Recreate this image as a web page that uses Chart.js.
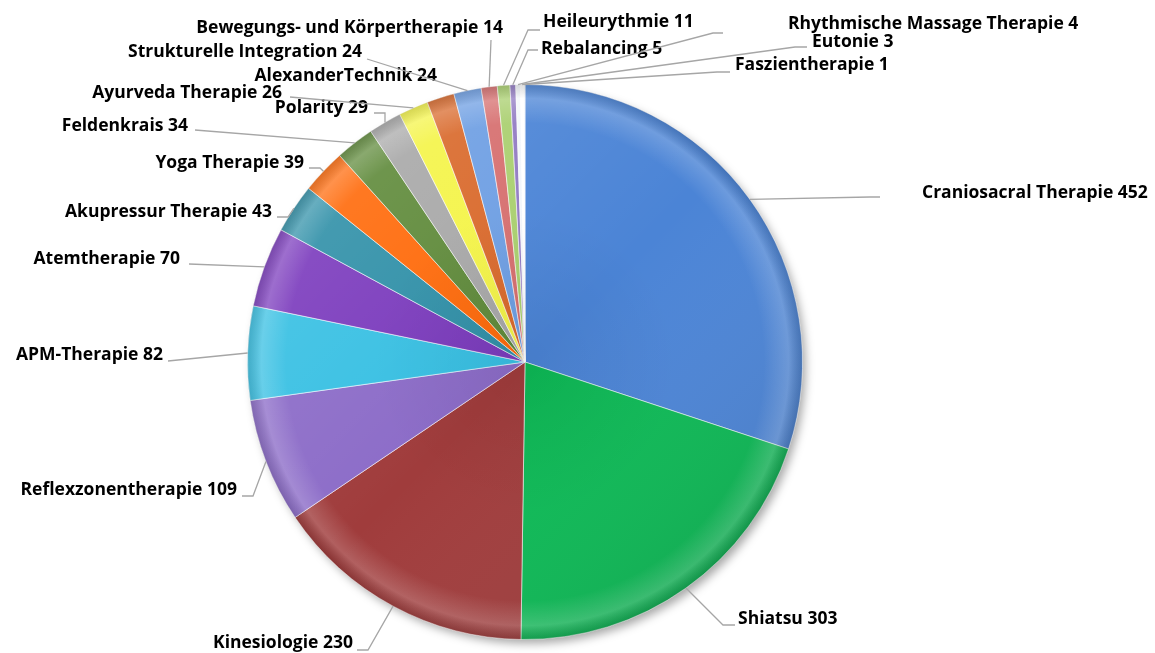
<!DOCTYPE html>
<html>
<head>
<meta charset="utf-8">
<script src="https://cdn.jsdelivr.net/npm/chart.js@4.4.1/dist/chart.umd.min.js"></script>
<style>
  html, body { margin: 0; padding: 0; background: #fff; }
  #wrap { width: 1155px; height: 653px; }
</style>
</head>
<body>
<div id="wrap"><canvas id="therapy_chart" width="1155" height="653"></canvas></div>
<script>
const categories = [
  'Craniosacral Therapie', 'Shiatsu', 'Kinesiologie', 'Reflexzonentherapie',
  'APM-Therapie', 'Atemtherapie', 'Akupressur Therapie', 'Yoga Therapie',
  'Feldenkrais', 'Polarity', 'Ayurveda Therapie', 'AlexanderTechnik',
  'Strukturelle Integration', 'Bewegungs- und Körpertherapie', 'Heileurythmie',
  'Rebalancing', 'Rhythmische Massage Therapie', 'Eutonie', 'Faszientherapie',
]
const counts = [452, 303, 230, 109, 82, 70, 43, 39, 34, 29, 26, 24, 24, 14, 11, 5, 4, 3, 1]

const sliceColors = [
  '#4b84d6', '#0cb955', '#a03c3c', '#8c6cc8', '#38c0e3', '#7b3bbd', '#3090a8',
  '#ff6a0a', '#5f8a3a', '#a8a8a8', '#f4f448', '#d9692b', '#6d9ee3', '#d66e6e',
  '#a9cf6e', '#9079c2', '#f2f6fb', '#ffffff', '#eef3f8',
]

// label placement: text anchor, alignment, leader line points after the pie edge
const labelLayout = [
  { x: 922, y: 193, align: 'left', line: [[870, 197], [880, 197]] },
  { x: 738, y: 619, align: 'left', line: [[723, 625], [735, 625]] },
  { x: 353, y: 643, align: 'right', line: [[368, 650], [357, 650]] },
  { x: 237, y: 490, align: 'right', line: [[253, 496], [242, 496]] },
  { x: 163, y: 355, align: 'right', line: [[168, 361]] },
  { x: 180, y: 259, align: 'right', line: [[189, 264]] },
  { x: 272, y: 212, align: 'right', line: [[288, 217], [277, 217]] },
  { x: 304, y: 163, align: 'right', line: [[320, 168], [309, 168]] },
  { x: 188, y: 126, align: 'right', line: [[195, 130]] },
  { x: 368, y: 108, align: 'right', line: [[385, 113], [374, 113]] },
  { x: 282, y: 93, align: 'right', line: [[290, 97]] },
  { x: 437, y: 76, align: 'right', line: [] },
  { x: 362, y: 52, align: 'right', line: [[367, 59]] },
  { x: 503, y: 28, align: 'right', line: [[491, 40]] },
  { x: 543, y: 22, align: 'left', line: [[528, 30], [540, 30]] },
  { x: 541, y: 49, align: 'left', line: [[528, 50], [538, 50]] },
  { x: 788, y: 24, align: 'left', line: [[713, 33], [723, 33]] },
  { x: 812, y: 42, align: 'left', line: [[795, 47], [807, 47]] },
  { x: 735, y: 65, align: 'left', line: [[717, 72], [730, 72]] },
]

const pieShadow = {
  id: 'pieShadow',
  beforeDatasetsDraw(chart) {
    const arc = chart.getDatasetMeta(0).data[0]
    if (!arc) return
    const ctx = chart.ctx
    ctx.save()
    ctx.shadowColor = 'rgba(0,0,0,0.35)'
    ctx.shadowBlur = 10
    ctx.shadowOffsetX = 4
    ctx.shadowOffsetY = 5
    ctx.fillStyle = '#fff'
    ctx.beginPath()
    ctx.arc(arc.x, arc.y, arc.outerRadius - 1, 0, Math.PI * 2)
    ctx.fill()
    ctx.restore()
  },
  afterDatasetsDraw(chart) {
    const ctx = chart.ctx
    const arcs = chart.getDatasetMeta(0).data
    if (!arcs.length) return
    const cx = arcs[0].x
    const cy = arcs[0].y
    const r = arcs[0].outerRadius
    arcs.forEach((a) => {
      ctx.save()
      ctx.beginPath()
      ctx.moveTo(cx, cy)
      ctx.arc(cx, cy, r, a.startAngle, a.endAngle)
      ctx.closePath()
      ctx.clip()
      const g = ctx.createRadialGradient(cx, cy, 0, cx, cy, r)
      g.addColorStop(0, 'rgba(0,0,0,0.06)')
      g.addColorStop(0.55, 'rgba(0,0,0,0)')
      g.addColorStop(0.86, 'rgba(255,255,255,0)')
      g.addColorStop(0.95, 'rgba(255,255,255,0.18)')
      g.addColorStop(1, 'rgba(0,0,0,0.14)')
      ctx.fillStyle = g
      ctx.fillRect(cx - r, cy - r, r * 2, r * 2)
      ctx.restore()
    })
    ctx.save()
    ctx.beginPath()
    ctx.arc(cx, cy, r, 0, Math.PI * 2)
    ctx.clip()
    const lg = ctx.createLinearGradient(cx - r, cy - r, cx + r, cy + r)
    lg.addColorStop(0, 'rgba(255,255,255,0.16)')
    lg.addColorStop(0.5, 'rgba(255,255,255,0)')
    lg.addColorStop(1, 'rgba(0,0,0,0.16)')
    ctx.fillStyle = lg
    ctx.fillRect(cx - r, cy - r, r * 2, r * 2)
    ctx.restore()
  },
}

const leaderLabels = {
  id: 'leaderLabels',
  afterDraw(chart) {
    const ctx = chart.ctx
    const arcs = chart.getDatasetMeta(0).data
    ctx.save()
    ctx.font = 'bold 17.5px "Open Sans"'
    ctx.fillStyle = '#000'
    ctx.textBaseline = 'middle'
    ctx.strokeStyle = '#a6a6a6'
    ctx.lineWidth = 1.3
    arcs.forEach((a, i) => {
      const lay = labelLayout[i]
      const mid = (a.startAngle + a.endAngle) / 2
      if (lay.line.length) {
        ctx.beginPath()
        ctx.moveTo(a.x + Math.cos(mid) * a.outerRadius, a.y + Math.sin(mid) * a.outerRadius)
        lay.line.forEach((p) => ctx.lineTo(p[0], p[1]))
        ctx.stroke()
      }
      ctx.textAlign = lay.align
      ctx.fillText(categories[i] + ' ' + counts[i], lay.x, lay.y)
    })
    ctx.restore()
  },
}

new Chart(document.getElementById('therapy_chart').getContext('2d'), {
  type: 'pie',
  data: {
    labels: categories,
    datasets: [
      {
        data: counts,
        backgroundColor: sliceColors,
        borderColor: 'rgba(255,255,255,0.55)',
        borderWidth: 1,
      },
    ],
  },
  options: {
    responsive: false,
    animation: false,
    layout: {
      padding: { left: 225, right: 330, top: 84, bottom: 13 },
    },
    plugins: {
      legend: { display: false },
      tooltip: { enabled: false },
    },
  },
  plugins: [pieShadow, leaderLabels],
})
</script>
</body>
</html>
